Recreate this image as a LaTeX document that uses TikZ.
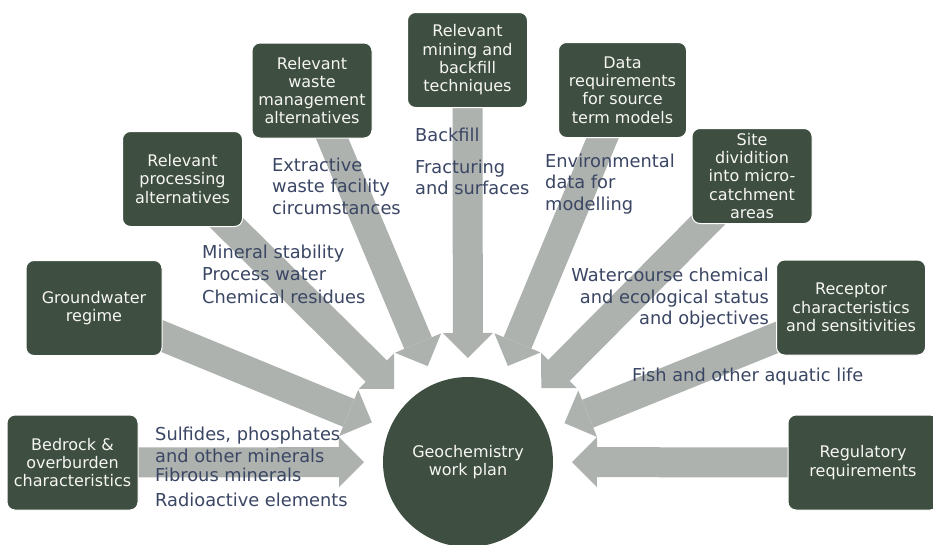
\documentclass[tikz,border=0pt]{standalone}
\usepackage{fontspec}
\setmainfont{DejaVu Sans}
\usepackage{xcolor}
\usetikzlibrary{positioning, calc, arrows.meta, backgrounds}
\definecolor{gwGreen}{RGB}{62, 78, 64}
\definecolor{gwGray}{RGB}{174, 178, 174}
\definecolor{gwInk}{RGB}{58, 70, 100}
\definecolor{gwPaper}{RGB}{246, 246, 242}
\tikzset{
    base/.style={
        align=center
    },
    topic/.style={
        base,
        rectangle,
        rounded corners=8pt,
        draw=white,
        line width=1pt,
        fill=gwGreen,
        text=gwPaper,
        inner xsep=6pt,
        inner ysep=2pt,
        minimum width=120pt,
        minimum height=95pt,
        font=\fontsize{16}{18.3}\selectfont
    },
    hub/.style={
        base,
        circle,
        fill=gwGreen,
        text=gwPaper,
        minimum size=170pt,
        font=\fontsize{16}{18.3}\selectfont
    },
    flow/.style={
        line width=30pt,
        color=gwGray,
        -{Triangle[width=50pt, length=25pt, line width=0pt]}
    },
    note/.style={
        text=gwInk,
        inner sep=0pt,
        font=\fontsize{17.8}{21.5}\selectfont
    }
}
\begin{document}
\begin{tikzpicture}[x=1pt, y=-1pt]
  \useasboundingbox (0,0) rectangle (933,544);

  % centre and the topics round it
  \node[hub] (plan) at (468,462) {Geochemistry\\work plan};
  \node[topic, minimum width=131pt] (bedrock) at (72.5,462.5) {Bedrock \&\\overburden\\characteristics};
  \node[topic, minimum width=136pt] (ground) at (94,308) {Groundwater\\regime};
  \node[topic] (process) at (182.5,179) {Relevant\\processing\\alternatives};
  \node[topic] (waste) at (312,90.5) {Relevant\\waste\\management\\alternatives};
  \node[topic] (mining) at (467.5,60) {Relevant\\mining and\\backfill\\techniques};
  \node[topic, minimum width=128pt] (data) at (622.5,90) {Data\\requirements\\for source\\term models};
  \node[topic] (site) at (752,176) {Site\\dividition\\into micro-\\catchment\\areas};
  \node[topic, minimum width=149pt] (receptor) at (851,307.5) {Receptor\\characteristics\\and sensitivities};
  \node[topic, minimum width=150pt] (regulatory) at (863,462.5) {Regulatory\\requirements};

  % what each topic brings in
  \node[note, anchor=west, align=left] (sulfides) at (155,445) {Sulfides, phosphates\\and other minerals};
  \node[note, anchor=west] (fibrous) at (155,475) {Fibrous minerals};
  \node[note, anchor=west] (radio) at (155,500) {Radioactive elements};
  \node[note, anchor=west, align=left, font=\fontsize{17.8}{22.5}\selectfont] (mineral) at (202,274) {Mineral stability\\Process water\\Chemical residues};
  \node[note, anchor=west, align=left] (extractive) at (272,186) {Extractive\\waste facility\\circumstances};
  \node[note, anchor=west] (backfill) at (415,135) {Backfill};
  \node[note, anchor=west, align=left] (fracturing) at (415,177.5) {Fracturing\\and surfaces};
  \node[note, anchor=west, align=left] (environ) at (545,184) {Environmental\\data for\\modelling};
  \node[note, anchor=east, align=right] (watercourse) at (769,298.5) {Watercourse chemical\\and ecological status\\and objectives};
  \node[note, anchor=west] (fish) at (632,377) {Fish and other aquatic life};

  \begin{scope}[on background layer]
    \fill[white] (0,0) rectangle (933,544);
    \draw[flow] (bedrock.center) -- ($(plan.center)!104pt!(bedrock.center)$);
    \draw[flow] (ground.center) -- ($(plan.center)!104pt!(ground.center)$);
    \draw[flow] (process.center) -- ($(plan.center)!104pt!(process.center)$);
    \draw[flow] (waste.center) -- ($(plan.center)!104pt!(waste.center)$);
    \draw[flow] (mining.center) -- ($(plan.center)!104pt!(mining.center)$);
    \draw[flow] (data.center) -- ($(plan.center)!104pt!(data.center)$);
    \draw[flow] (site.center) -- ($(plan.center)!104pt!(site.center)$);
    \draw[flow] (receptor.center) -- ($(plan.center)!104pt!(receptor.center)$);
    \draw[flow] (regulatory.center) -- ($(plan.center)!104pt!(regulatory.center)$);
  \end{scope}
\end{tikzpicture}
\end{document}
